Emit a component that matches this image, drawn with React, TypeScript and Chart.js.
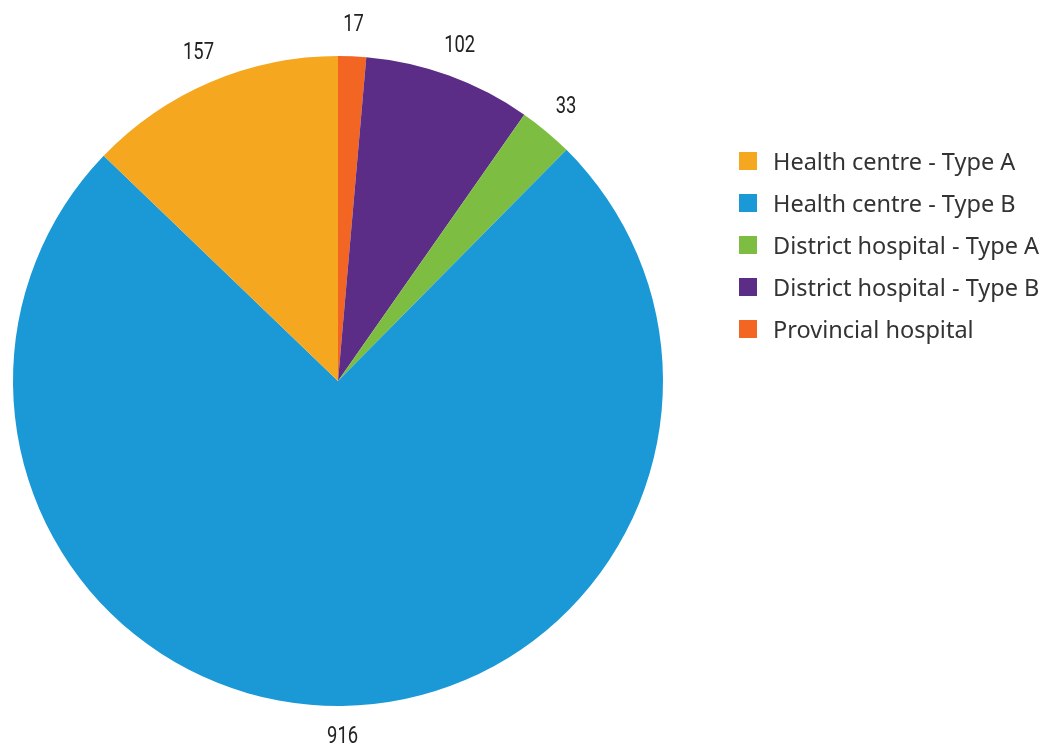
import React, { useEffect, useRef } from "react";
import { Chart, registerables } from "chart.js";

Chart.register(...registerables);

// Data in drawing order (clockwise from 12 o'clock)
const sliceLabels = [
  "Provincial hospital",
  "District hospital - Type B",
  "District hospital - Type A",
  "Health centre - Type B",
  "Health centre - Type A",
];
const sliceValues = [17, 102, 33, 916, 157];
const sliceColors = ["#F26522", "#5B2D87", "#7DBE42", "#1A99D6", "#F5A81F"];

// Legend order as shown in the reference
const legendOrder = [4, 3, 2, 1, 0];

const outsideLabels = {
  id: "outsideLabels",
  afterDatasetsDraw(chart: any) {
    const ctx = chart.ctx;
    const meta = chart.getDatasetMeta(0);
    meta.data.forEach((arc: any, i: number) => {
      const mid = (arc.startAngle + arc.endAngle) / 2;
      const r = arc.outerRadius + 31;
      const x = arc.x + Math.cos(mid) * r;
      const y = arc.y + Math.sin(mid) * r;
      ctx.save();
      ctx.translate(x, y);
      ctx.scale(0.8, 1);
      ctx.font = '23px "Roboto", sans-serif';
      ctx.fillStyle = "#222222";
      ctx.textAlign = "center";
      ctx.textBaseline = "middle";
      ctx.fillText(String(chart.data.datasets[0].data[i]), 0, 0);
      ctx.restore();
    });
  },
};

export default function App() {
  const canvasRef = useRef<HTMLCanvasElement | null>(null);

  useEffect(() => {
    document.body.style.margin = "0";
    const chart = new Chart(canvasRef.current as HTMLCanvasElement, {
      type: "pie",
      data: {
        labels: sliceLabels,
        datasets: [
          {
            data: sliceValues,
            backgroundColor: sliceColors,
            borderWidth: 0,
          },
        ],
      },
      options: {
        animation: false,
        responsive: false,
        layout: { padding: { left: 13, right: 379, top: 56, bottom: 39 } },
        plugins: {
          legend: { display: false },
          tooltip: { enabled: false },
        },
      },
      plugins: [outsideLabels],
    });
    return () => chart.destroy();
  }, []);

  return (
    <div style={{ position: "relative", width: 1042, height: 745, background: "#fff" }}>
      <canvas ref={canvasRef} width={1042} height={745} style={{ position: "absolute", left: 0, top: 0 }} />
      <div
        style={{
          position: "absolute",
          left: 739,
          top: 140,
          fontFamily: '"Source Sans Pro", "Noto Sans", sans-serif',
          fontSize: 23.5,
          color: "#333",
        }}
      >
        {legendOrder.map((idx) => (
          <div key={idx} style={{ display: "flex", alignItems: "center", height: 42, whiteSpace: "nowrap" }}>
            <span
              style={{
                display: "inline-block",
                width: 18,
                height: 18,
                background: sliceColors[idx],
                marginRight: 16,
                flexShrink: 0,
              }}
            />
            <span>{sliceLabels[idx]}</span>
          </div>
        ))}
      </div>
    </div>
  );
}
